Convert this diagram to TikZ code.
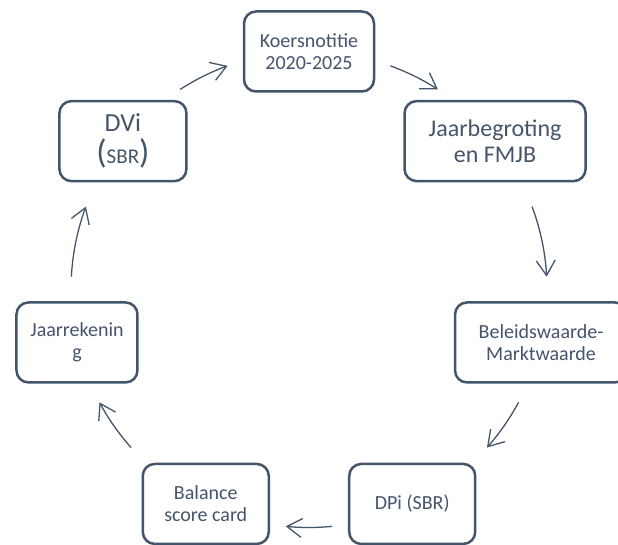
\documentclass[tikz,border=0pt]{standalone}
\usepackage{fontspec}
\setmainfont{Carlito}
\usetikzlibrary{arrows.meta}
\definecolor{slate}{HTML}{44546A}
\tikzset{box node/.style={rectangle,draw=slate,line width=2.5pt,rounded corners=12pt,
minimum height=80pt,inner sep=2pt,align=center,text=slate,
font=\fontsize{20}{22}\selectfont}}
\tikzset{cycle arrow/.style={draw=slate,line width=1.3pt,
-{Straight Barb[length=15pt,width=19pt]}}}

\begin{document}
\begin{tikzpicture}[x=1pt,y=1pt]
    \useasboundingbox (0,0) rectangle (618,544);
    \coordinate (c) at (309,254.5);

    \node[box node,minimum width=130pt] (1) at ([shift={(90:238)}]c) {Koersnotitie\\2020-2025};
            \node[box node,minimum width=181pt,font=\fontsize{24}{26}\selectfont] (2) at ([shift={(38.57:238)}]c) {Jaarbegroting\\en FMJB};
            \node[box node,minimum width=172pt] (3) at ([shift={(-12.86:238)}]c) {Beleidswaarde-\\Marktwaarde};
            \node[box node,minimum width=126pt] (4) at ([shift={(-64.29:238)}]c) {DPi (SBR)};
            \node[box node,minimum width=126pt] (5) at ([shift={(-115.71:238)}]c) {Balance\\score card};
            \node[box node,minimum width=121pt] (6) at ([shift={(-167.14:238)}]c) {Jaarrekenin\\g};
            \node[box node,minimum width=127pt,font=\fontsize{26}{32}\selectfont] (7) at ([shift={(141.43:238)}]c)
            {DVi\\{\fontsize{34}{32}\selectfont(}{\fontsize{21}{32}\selectfont SBR}{\fontsize{34}{32}\selectfont)}};

            % arcs on the cycle circle, clockwise
            \draw[cycle arrow] ([shift={(122.8:238)}]c) arc[start angle=122.8,end angle=110,radius=238];
            \draw[cycle arrow] ([shift={(70:238)}]c) arc[start angle=70,end angle=57.2,radius=238];
            \draw[cycle arrow] ([shift={(20.4:238)}]c) arc[start angle=20.4,end angle=3.1,radius=238];
            \draw[cycle arrow] ([shift={(-28.3:238)}]c) arc[start angle=-28.3,end angle=-41.6,radius=238];
            \draw[cycle arrow] ([shift={(-84.4:238)}]c) arc[start angle=-84.4,end angle=-95.6,radius=238];
            \draw[cycle arrow] ([shift={(-138.4:238)}]c) arc[start angle=-138.4,end angle=-151.7,radius=238];
            \draw[cycle arrow] ([shift={(176.9:238)}]c) arc[start angle=176.9,end angle=159.6,radius=238];

\end{tikzpicture}
\end{document}
